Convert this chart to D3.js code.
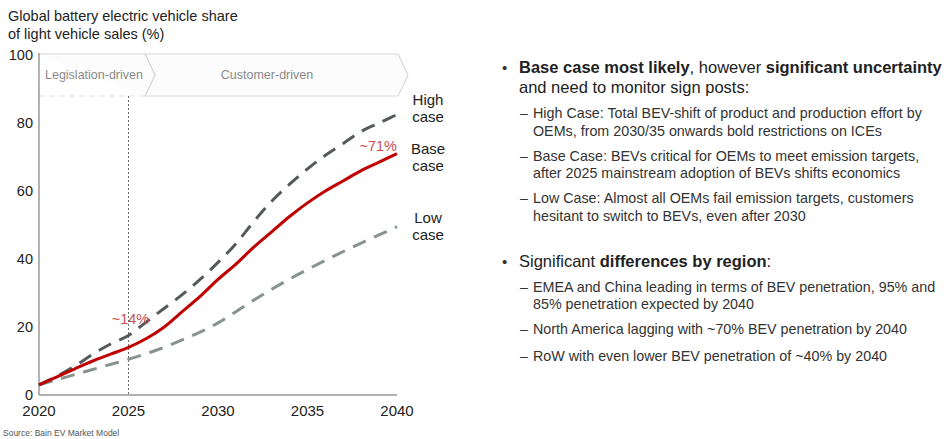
<!DOCTYPE html>
<html>
<head>
<meta charset="utf-8">
<script src="https://cdn.jsdelivr.net/npm/d3@7"></script>
<style>
  body { margin: 0; background: #fff; }
  svg { display: block; font-family: Arial, "Liberation Sans", sans-serif; }
</style>
</head>
<body>
<div id="chart"></div>
<script>
// 年份與三種情境（%）
var years = d3.range(2020, 2041);
var highCase = [3, 5.5, 8.5, 12, 15, 17.5, 21.5, 25.5, 29.5, 34, 39, 44.5, 51, 57, 62, 66.5, 70.5, 74, 77.5, 80, 82.5];
var baseCase = [3, 5.3, 7.7, 10, 12, 14, 16.6, 20, 24.5, 29, 34, 38.5, 43.5, 48, 52.5, 56.5, 60, 63, 66, 68.5, 71];
var lowCase  = [3, 4.5, 6, 7.5, 9, 10.5, 12.2, 14, 16.2, 18.5, 21.2, 24.5, 27.9, 31.1, 34.1, 36.9, 39.6, 42.2, 44.7, 47.1, 49.5];

var xTicks = [2020, 2025, 2030, 2035, 2040];
var yTicks = [0, 20, 40, 60, 80, 100];
var phases = ["Legislation-driven", "Customer-driven"];
var phaseBreak = 2026.2;

var bullets = [
  { parts: [["Base case most likely", true], [", however ", false], ["significant uncertainty", true]],
    cont: "and need to monitor sign posts:",
    subs: [
      ["High Case: Total BEV-shift of product and production effort by", "OEMs, from 2030/35 onwards bold restrictions on ICEs"],
      ["Base Case: BEVs critical for OEMs to meet emission targets,", "after 2025 mainstream adoption of BEVs shifts economics"],
      ["Low Case: Almost all OEMs fail emission targets, customers", "hesitant to switch to BEVs, even after 2030"]
    ] },
  { parts: [["Significant ", false], ["differences by region", true], [":", false]],
    cont: null,
    subs: [
      ["EMEA and China leading in terms of BEV penetration, 95% and", "85% penetration expected by 2040"],
      ["North America lagging with ~70% BEV penetration by 2040"],
      ["RoW with even lower BEV penetration of ~40% by 2040"]
    ] }
];

var width = 947, height = 439;
var svg = d3.select("#chart").append("svg")
  .attr("width", width).attr("height", height);

var x = d3.scaleLinear().domain([2020, 2040]).range([39, 397]);
var y = d3.scaleLinear().domain([0, 100]).range([395, 55]);

// 標題
svg.append("text").attr("x", 8).attr("y", 21).attr("font-size", 14.5).attr("fill", "#222")
  .text("Global battery electric vehicle share");
svg.append("text").attr("x", 8).attr("y", 39).attr("font-size", 14.5).attr("fill", "#222")
  .text("of light vehicle sales (%)");

// 階段箭頭
var boxTop = y(100) - 1, boxBot = 96, boxMid = (boxTop + boxBot) / 2, tip = 10;
var b1 = x(phaseBreak) - 5;
var b2 = x(2040) + 1;
svg.append("path")
  .attr("d", "M" + b1 + "," + boxTop + " L" + b2 + "," + boxTop + " L" + (b2 + tip) + "," + boxMid +
             " L" + b2 + "," + boxBot + " L" + b1 + "," + boxBot + " L" + (b1 + tip) + "," + boxMid + " Z")
  .attr("fill", "#fcfcfc").attr("stroke", "#d8d8d8").attr("stroke-width", 1.2);
svg.append("path")
  .attr("d", "M" + x(2020) + "," + boxTop + " L" + b1 + "," + boxTop + " L" + (b1 + tip) + "," + boxMid +
             " L" + b1 + "," + boxBot)
  .attr("fill", "#fcfcfc").attr("stroke", "#d8d8d8").attr("stroke-width", 1.2);
svg.append("line").attr("x1", x(2020)).attr("x2", b1).attr("y1", boxBot).attr("y2", boxBot)
  .attr("stroke", "#e2e2e2").attr("stroke-width", 1).attr("stroke-dasharray", "6,4");
svg.append("text").attr("x", (x(2020) + b1) / 2 + 2).attr("y", boxMid + 4)
  .attr("text-anchor", "middle").attr("font-size", 12.5).attr("fill", "#8a8a8a").text(phases[0]);
svg.append("text").attr("x", 267).attr("y", boxMid + 4)
  .attr("text-anchor", "middle").attr("font-size", 12.5).attr("fill", "#8a8a8a").text(phases[1]);

// 軸
svg.append("line").attr("x1", x(2020)).attr("x2", x(2020)).attr("y1", y(100) - 2).attr("y2", y(0))
  .attr("stroke", "#999").attr("stroke-width", 1.5);
svg.append("line").attr("x1", x(2020)).attr("x2", x(2040)).attr("y1", y(0)).attr("y2", y(0))
  .attr("stroke", "#999").attr("stroke-width", 1.5);

svg.selectAll(".ytick").data(yTicks).enter().append("text")
  .attr("x", 33).attr("y", function(d){ return y(d) + 5; })
  .attr("text-anchor", "end").attr("font-size", 14.5).attr("fill", "#222")
  .text(function(d){ return d; });
svg.selectAll(".xtick").data(xTicks).enter().append("text")
  .attr("x", function(d){ return x(d); }).attr("y", 416)
  .attr("text-anchor", "middle").attr("font-size", 15).attr("fill", "#222")
  .text(function(d){ return d; });

// 2025 虛線
svg.append("line").attr("x1", x(2025)).attr("x2", x(2025)).attr("y1", boxBot).attr("y2", y(0))
  .attr("stroke", "#444").attr("stroke-width", 0.8).attr("stroke-dasharray", "2,2");

// 曲線
var line = d3.line()
  .x(function(d, i){ return x(years[i]); })
  .y(function(d){ return y(d); })
  .curve(d3.curveCatmullRom.alpha(0.5));

svg.append("path").datum(lowCase).attr("d", line).attr("fill", "none")
  .attr("stroke", "#879390").attr("stroke-width", 3).attr("stroke-dasharray", "14,9");
svg.append("path").datum(highCase).attr("d", line).attr("fill", "none")
  .attr("stroke", "#545a5a").attr("stroke-width", 3).attr("stroke-dasharray", "14,9");
svg.append("path").datum(baseCase).attr("d", line).attr("fill", "none")
  .attr("stroke", "#c00000").attr("stroke-width", 3);

// 標註
svg.append("text").attr("x", x(2025) + 2).attr("y", 324)
  .attr("text-anchor", "middle").attr("font-size", 14.5).attr("fill", "#c9514f").text("~14%");
svg.append("text").attr("x", x(2040)).attr("y", y(baseCase[20]) - 3)
  .attr("text-anchor", "end").attr("font-size", 14.5).attr("fill", "#c9514f").text("~71%");

var caseLabels = [["High", "case", 100], ["Base", "case", 149], ["Low", "case", 218]];
caseLabels.forEach(function(c){
  var t = svg.append("text").attr("x", 428).attr("y", c[2] + 5)
    .attr("text-anchor", "middle").attr("font-size", 15).attr("fill", "#222");
  t.append("tspan").attr("x", 428).text(c[0]);
  t.append("tspan").attr("x", 428).attr("dy", 17).text(c[1]);
});

// 資料來源
svg.append("text").attr("x", 3).attr("y", 436).attr("font-size", 8.5).attr("fill", "#555")
  .text("Source: Bain EV Market Model");

// 右側文字
var bx = 502, tx = 519, sdx = 520, stx = 533;
var yPos = 73;
bullets.forEach(function(b, bi){
  if (bi > 0) yPos += 28;
  svg.append("text").attr("x", bx).attr("y", yPos).attr("font-size", 15).attr("fill", "#333").text("•");
  var t = svg.append("text").attr("x", tx).attr("y", yPos).attr("font-size", 16.5).attr("fill", "#222");
  b.parts.forEach(function(p){
    t.append("tspan").attr("font-weight", p[1] ? "bold" : "normal").text(p[0]);
  });
  if (b.cont) {
    yPos += 20;
    svg.append("text").attr("x", tx).attr("y", yPos).attr("font-size", 16.5).attr("fill", "#222").text(b.cont);
  }
  b.subs.forEach(function(s, si){
    yPos += (si === 2 && bi === 1) ? 27 : 25;
    svg.append("text").attr("x", sdx).attr("y", yPos).attr("font-size", 14).attr("fill", "#333").text("–");
    s.forEach(function(ln, li){
      if (li > 0) yPos += 17.5;
      svg.append("text").attr("x", stx).attr("y", yPos).attr("font-size", 14.3).attr("fill", "#333").text(ln);
    });
  });
  yPos += 18;
});
</script>
</body>
</html>
